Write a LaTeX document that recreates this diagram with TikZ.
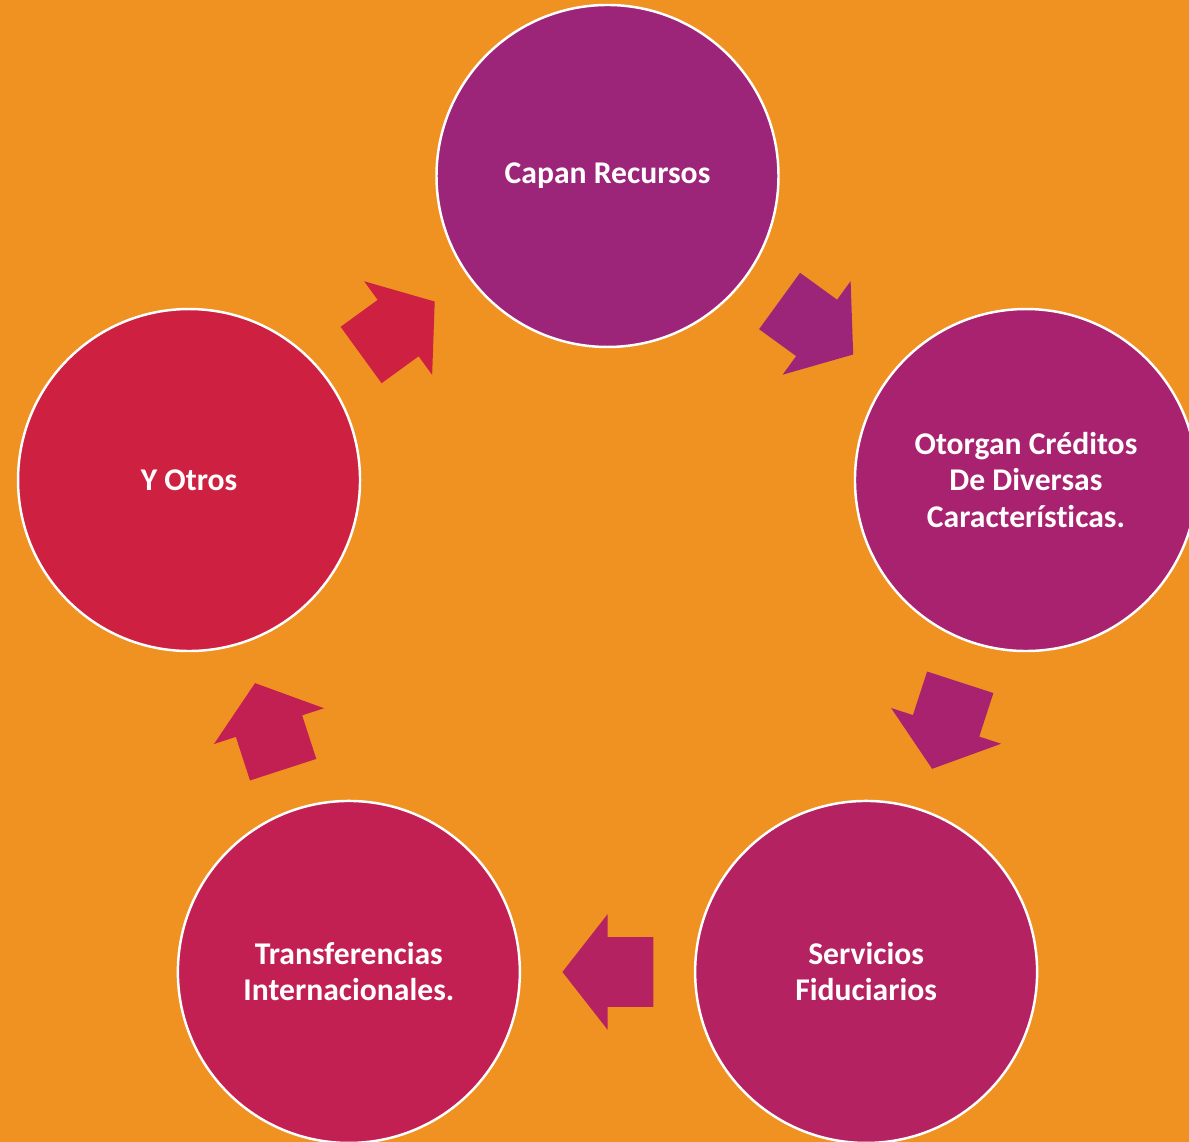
\documentclass[tikz,border=0pt]{standalone}
\usepackage{fontspec}
\setmainfont{Carlito}[Ligatures=NoCommon]
\usetikzlibrary{shapes.arrows,calc}

\definecolor{bgorange}{HTML}{EF9222}
\definecolor{stageA}{HTML}{9D2579}
\definecolor{stageB}{HTML}{A8226F}
\definecolor{stageC}{HTML}{B52262}
\definecolor{stageD}{HTML}{C22052}
\definecolor{stageE}{HTML}{CE2141}

\begin{document}
\begin{tikzpicture}
  [
  font=\fontsize{18}{20.5}\selectfont\bfseries,
  stage/.style={circle, inner sep=0pt, minimum size=6.84cm, draw=white, line width=1.4pt, text=white, align=center},
  turn/.style={single arrow, inner xsep=0pt, inner ysep=0.69cm, minimum height=1.82cm,
    single arrow head extend=0.46cm, single arrow tip angle=104, anchor=tip},
  ]

  \fill[bgorange] (0,0) rectangle (23.78,22.84);
  \useasboundingbox (0,0) rectangle (23.78,22.84);
  \coordinate (o) at (12.15,10.52);

  \foreach \i/\a/\col/\txt in {1/90/stageA/{Capan Recursos},
    2/18/stageB/{Otorgan Créditos\\De Diversas\\Características.},
    3/-54/stageC/{Servicios\\Fiduciarios},
    4/-126/stageD/{Transferencias\\Internacionales.},
    5/162/stageE/{Y Otros}} {
    \node[stage, fill=\col] (s\i) at ($(o)+(\a:8.8)$) {\txt};
  }

  % block arrows between neighbours
  \foreach \i/\j/\a/\col in {1/2/-36/stageA, 2/3/-108/stageB, 3/4/180/stageC, 4/5/108/stageD, 5/1/36/stageE} {
    \node[turn, fill=\col, rotate=\a] (t\i) at ($(s\i)!0.5!(s\j)!0.91cm!(s\j)$) {};
  }

\end{tikzpicture}
\end{document}
